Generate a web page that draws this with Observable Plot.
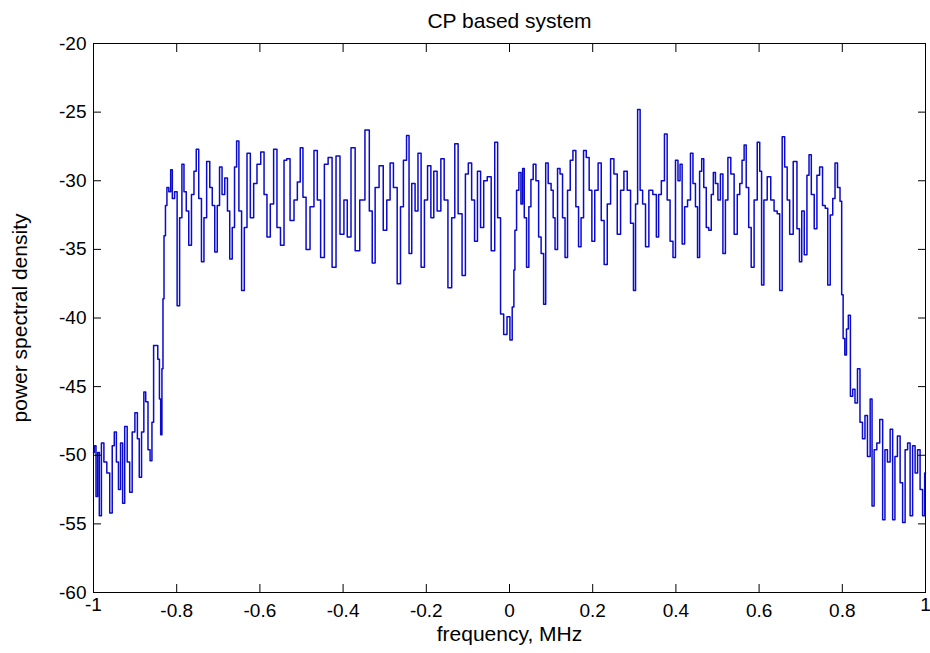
<!DOCTYPE html>
<html>
<head>
<meta charset="utf-8">
<script src="https://cdn.jsdelivr.net/npm/d3@7"></script>
<script src="https://cdn.jsdelivr.net/npm/@observablehq/plot@0.6"></script>
<style>
  html, body { margin: 0; padding: 0; background: #fff; }
</style>
</head>
<body>
<div id="chart"></div>
<script>
const title = "CP based system";
const xLabel = "frequency, MHz";
const yLabel = "power spectral density";
const xTicksInner = [-0.8, -0.6, -0.4, -0.2, 0, 0.2, 0.4, 0.6, 0.8];
const xTicksEnds = [-1, 1];
const yTicks = [-60, -55, -50, -45, -40, -35, -30, -25, -20];

const freq = [
-1.000,-0.996,-0.992,-0.988,-0.984,-0.978,-0.972,-0.964,-0.958,-0.952,-0.948,-0.942,-0.938,-0.932,-0.928,-0.922,-0.916,-0.910,-0.904,-0.897,
-0.892,-0.888,-0.881,-0.877,-0.872,-0.866,-0.862,-0.857,-0.854,-0.848,-0.843,-0.840,-0.837,-0.834,-0.832,-0.829,-0.825,-0.822,-0.816,-0.813,
-0.808,-0.802,-0.796,-0.790,-0.785,-0.780,-0.774,-0.768,-0.761,-0.756,-0.750,-0.744,-0.737,-0.732,-0.724,-0.717,-0.712,-0.705,-0.700,-0.694,
-0.688,-0.681,-0.675,-0.670,
-0.663,-0.659,-0.653,-0.648,-0.640,-0.635,-0.627,-0.619,-0.611,-0.603,-0.593,-0.587,-0.579,-0.571,-0.563,-0.555,-0.546,-0.538,-0.533,-0.522,
-0.514,-0.506,-0.500,-0.493,-0.485,-0.474,-0.466,-0.458,-0.450,-0.440,-0.432,-0.421,-0.413,-0.402,-0.394,-0.386,-0.376,-0.366,-0.354,
-0.341,-0.333,-0.327,-0.319,-0.308,-0.299,-0.291,-0.283,-0.275,-0.265,-0.259,-0.251,-0.244,-0.239,-0.231,-0.223,-0.217,-0.208,-0.201,-0.193,
-0.185,-0.179,-0.169,-0.161,-0.153,-0.143,-0.135,-0.128,-0.119,-0.109,-0.103,-0.095,-0.087,-0.081,-0.073,-0.066,-0.058,-0.049,-0.039,-0.032,
-0.025,-0.018,-0.010,-0.002,0.004,0.009,
0.012,0.014,0.020,0.025,0.030,0.033,0.038,0.044,0.049,0.054,0.060,0.067,0.073,0.079,0.085,0.089,0.097,0.103,0.107,0.112,
0.119,0.124,0.131,0.136,0.143,0.149,0.156,0.163,0.169,0.175,0.181,0.188,0.195,0.201,0.209,0.217,0.224,0.231,0.239,0.247,
0.255,0.263,0.271,0.279,0.287,0.295,0.301,0.305,0.311,0.317,0.323,0.331,0.339,
0.350,0.356,0.361,0.369,0.376,0.382,0.390,0.396,0.402,0.408,0.412,0.418,0.424,0.432,0.438,0.444,0.450,0.454,0.460,0.464,
0.470,0.476,0.482,0.488,0.492,0.498,0.504,0.510,0.516,0.522,0.528,0.536,0.544,0.551,0.556,0.562,0.566,0.572,0.578,0.584,
0.592,0.599,0.604,0.608,0.615,0.624,0.632,0.640,0.647,0.652,0.659,0.664,0.671,0.676,
0.688,0.694,0.700,0.705,0.712,0.718,0.722,0.729,0.736,0.742,0.749,0.756,0.762,0.768,0.774,0.780,0.785,0.792,0.797,0.800,
0.804,0.808,0.812,0.817,0.822,0.828,0.833,0.840,0.845,0.852,0.857,0.864,0.870,0.873,0.880,0.886,0.894,0.900,0.905,0.912,
0.918,0.924,0.929,0.936,0.942,0.948,0.954,0.960,0.966,0.972,0.978,0.984,0.990,0.996,1.000
];

const psd = [
-49.8,-49.3,-53.0,-49.8,-54.4,-49.1,-50.5,-51.3,-54.2,-49.3,-48.3,-50.5,-52.5,-49.1,-53.5,-47.9,-50.5,-52.7,-48.3,-46.9,
-48.8,-51.6,-48.3,-45.4,-46.1,-49.6,-50.4,-47.6,-42.0,-42.0,-43.0,-45.9,-48.5,-43.7,-38.6,-34.0,-31.8,-30.5,-30.8,-29.2,
-31.3,-30.8,-39.1,-32.7,-28.8,-30.8,-32.2,-34.7,-31.0,-29.3,-27.7,-31.3,-35.9,-32.7,-28.6,-30.5,-31.8,-35.2,-31.8,-29.0,
-31.0,-29.8,-32.2,-35.7,
-33.4,-29.0,-27.1,-32.2,-38.0,-33.4,-28.0,-32.7,-30.2,-28.8,-27.9,-31.0,-34.1,-31.7,-27.7,-33.4,-34.7,-28.5,-28.4,-32.9,
-31.4,-30.1,-27.6,-31.2,-35.0,-31.9,-27.8,-31.4,-35.6,-28.8,-28.3,-36.3,-28.2,-33.9,-31.4,-34.1,-27.6,-35.1,-31.4,
-26.3,-32.2,-36.0,-30.5,-28.9,-33.6,-31.4,-28.7,-30.5,-37.5,-31.9,-28.5,-26.7,-35.3,-30.2,-32.2,-28.0,-36.3,-31.4,-28.9,
-32.7,-29.3,-32.2,-28.4,-31.4,-37.8,-32.7,-27.3,-32.4,-36.9,-29.5,-28.7,-31.4,-34.4,-29.3,-33.4,-30.0,-29.7,-35.1,-27.2,
-32.7,-39.7,-41.2,-39.9,-41.6,-39.2,
-36.5,-33.6,-30.7,-29.4,-31.7,-29.1,-32.7,-36.3,-31.9,-29.9,-28.8,-30.0,-34.1,-35.3,-39.0,-28.7,-30.2,-30.7,-32.7,-35.0,
-29.1,-29.5,-32.7,-35.6,-30.7,-28.5,-27.8,-31.9,-34.8,-32.7,-27.8,-28.3,-30.7,-34.4,-30.7,-28.7,-32.9,-36.1,-31.7,-28.4,
-29.5,-33.9,-30.7,-29.3,-30.7,-33.1,-38.0,-31.7,-24.8,-30.7,-31.7,-34.8,-30.7,
-31.0,-34.1,-31.0,-30.0,-26.6,-31.4,-34.4,-35.6,-28.5,-30.0,-28.8,-34.6,-31.9,-31.4,-28.0,-30.2,-31.9,-35.6,-29.3,-28.4,
-30.5,-33.4,-33.6,-31.0,-29.4,-30.2,-31.4,-29.5,-35.3,-31.4,-28.3,-29.5,-33.9,-31.0,-30.2,-28.5,-27.4,-30.5,-33.4,-36.3,
-31.4,-27.2,-29.3,-37.6,-31.4,-29.7,-31.4,-32.2,-32.4,-38.0,-26.8,-29.0,-31.4,-33.9,
-28.6,-33.5,-35.9,-32.2,-35.4,-29.6,-28.1,-31.0,-33.5,-29.6,-29.0,-31.8,-32.0,-37.6,-32.5,-31.3,-28.7,-30.5,-31.5,-38.3,
-41.5,-42.7,-40.8,-39.8,-45.7,-45.2,-46.2,-43.7,-47.6,-48.8,-47.1,-50.1,-45.9,-53.7,-49.6,-49.1,-47.4,-54.7,-49.6,-50.5,
-48.1,-54.7,-50.1,-48.6,-52.0,-54.9,-49.6,-49.1,-54.4,-49.3,-51.3,-49.6,-52.5,-54.4,-51.3
];

const data = freq.map((f, i) => ({f, p: psd[i]}));

const fontFamily = "'Liberation Sans', Arial, Helvetica, sans-serif";
const fsTick = 19;
const fsLabel = 21;
const fmt = d => String(d); // ASCII hyphen-minus like the reference

const chart = Plot.plot({
  width: 930,
  height: 653,
  marginTop: 43,
  marginBottom: 61,
  marginLeft: 93,
  marginRight: 5,
  style: {fontFamily, fontSize: fsTick + "px", color: "#000", background: "#fff", overflow: "visible"},
  x: {domain: [-1, 1]},
  y: {domain: [-60, -20]},
  marks: [
    Plot.lineY(data, {x: "f", y: "p", stroke: "#0b0bcc", strokeWidth: 1.5, curve: "step"}),
    Plot.frame({stroke: "#000", strokeWidth: 1}),
    // inward ticks on all four sides
    Plot.axisX(xTicksInner, {anchor: "bottom", tickSize: -8, tickFormat: () => "", label: null, stroke: "#000"}),
    Plot.axisX(xTicksInner, {anchor: "top", tickSize: -8, tickFormat: () => "", label: null, stroke: "#000"}),
    Plot.axisY(yTicks, {anchor: "left", tickSize: -8, tickFormat: () => "", label: null, stroke: "#000"}),
    Plot.axisY(yTicks, {anchor: "right", tickSize: -8, tickFormat: () => "", label: null, stroke: "#000"}),
    // tick labels
    Plot.axisX(xTicksInner, {anchor: "bottom", tickSize: 0, tickPadding: 11, tickFormat: fmt, label: null, fontSize: fsTick, fill: "#000"}),
    Plot.axisX(xTicksEnds, {anchor: "bottom", tickSize: 0, tickPadding: 5, tickFormat: fmt, label: null, fontSize: fsTick, fill: "#000"}),
    Plot.axisY(yTicks, {anchor: "left", tickSize: 0, tickPadding: 7, tickFormat: fmt, label: null, fontSize: fsTick, fill: "#000"}),
    // titles
    Plot.text([title], {frameAnchor: "top", lineAnchor: "bottom", dy: -16, fontSize: fsLabel, fill: "#000"}),
    Plot.text([xLabel], {frameAnchor: "bottom", lineAnchor: "top", dy: 34, fontSize: fsLabel, fill: "#000"}),
    Plot.text([yLabel], {frameAnchor: "left", textAnchor: "middle", rotate: -90, dx: -73, fontSize: fsLabel, fill: "#000"})
  ]
});

document.getElementById("chart").appendChild(chart);
</script>
</body>
</html>
